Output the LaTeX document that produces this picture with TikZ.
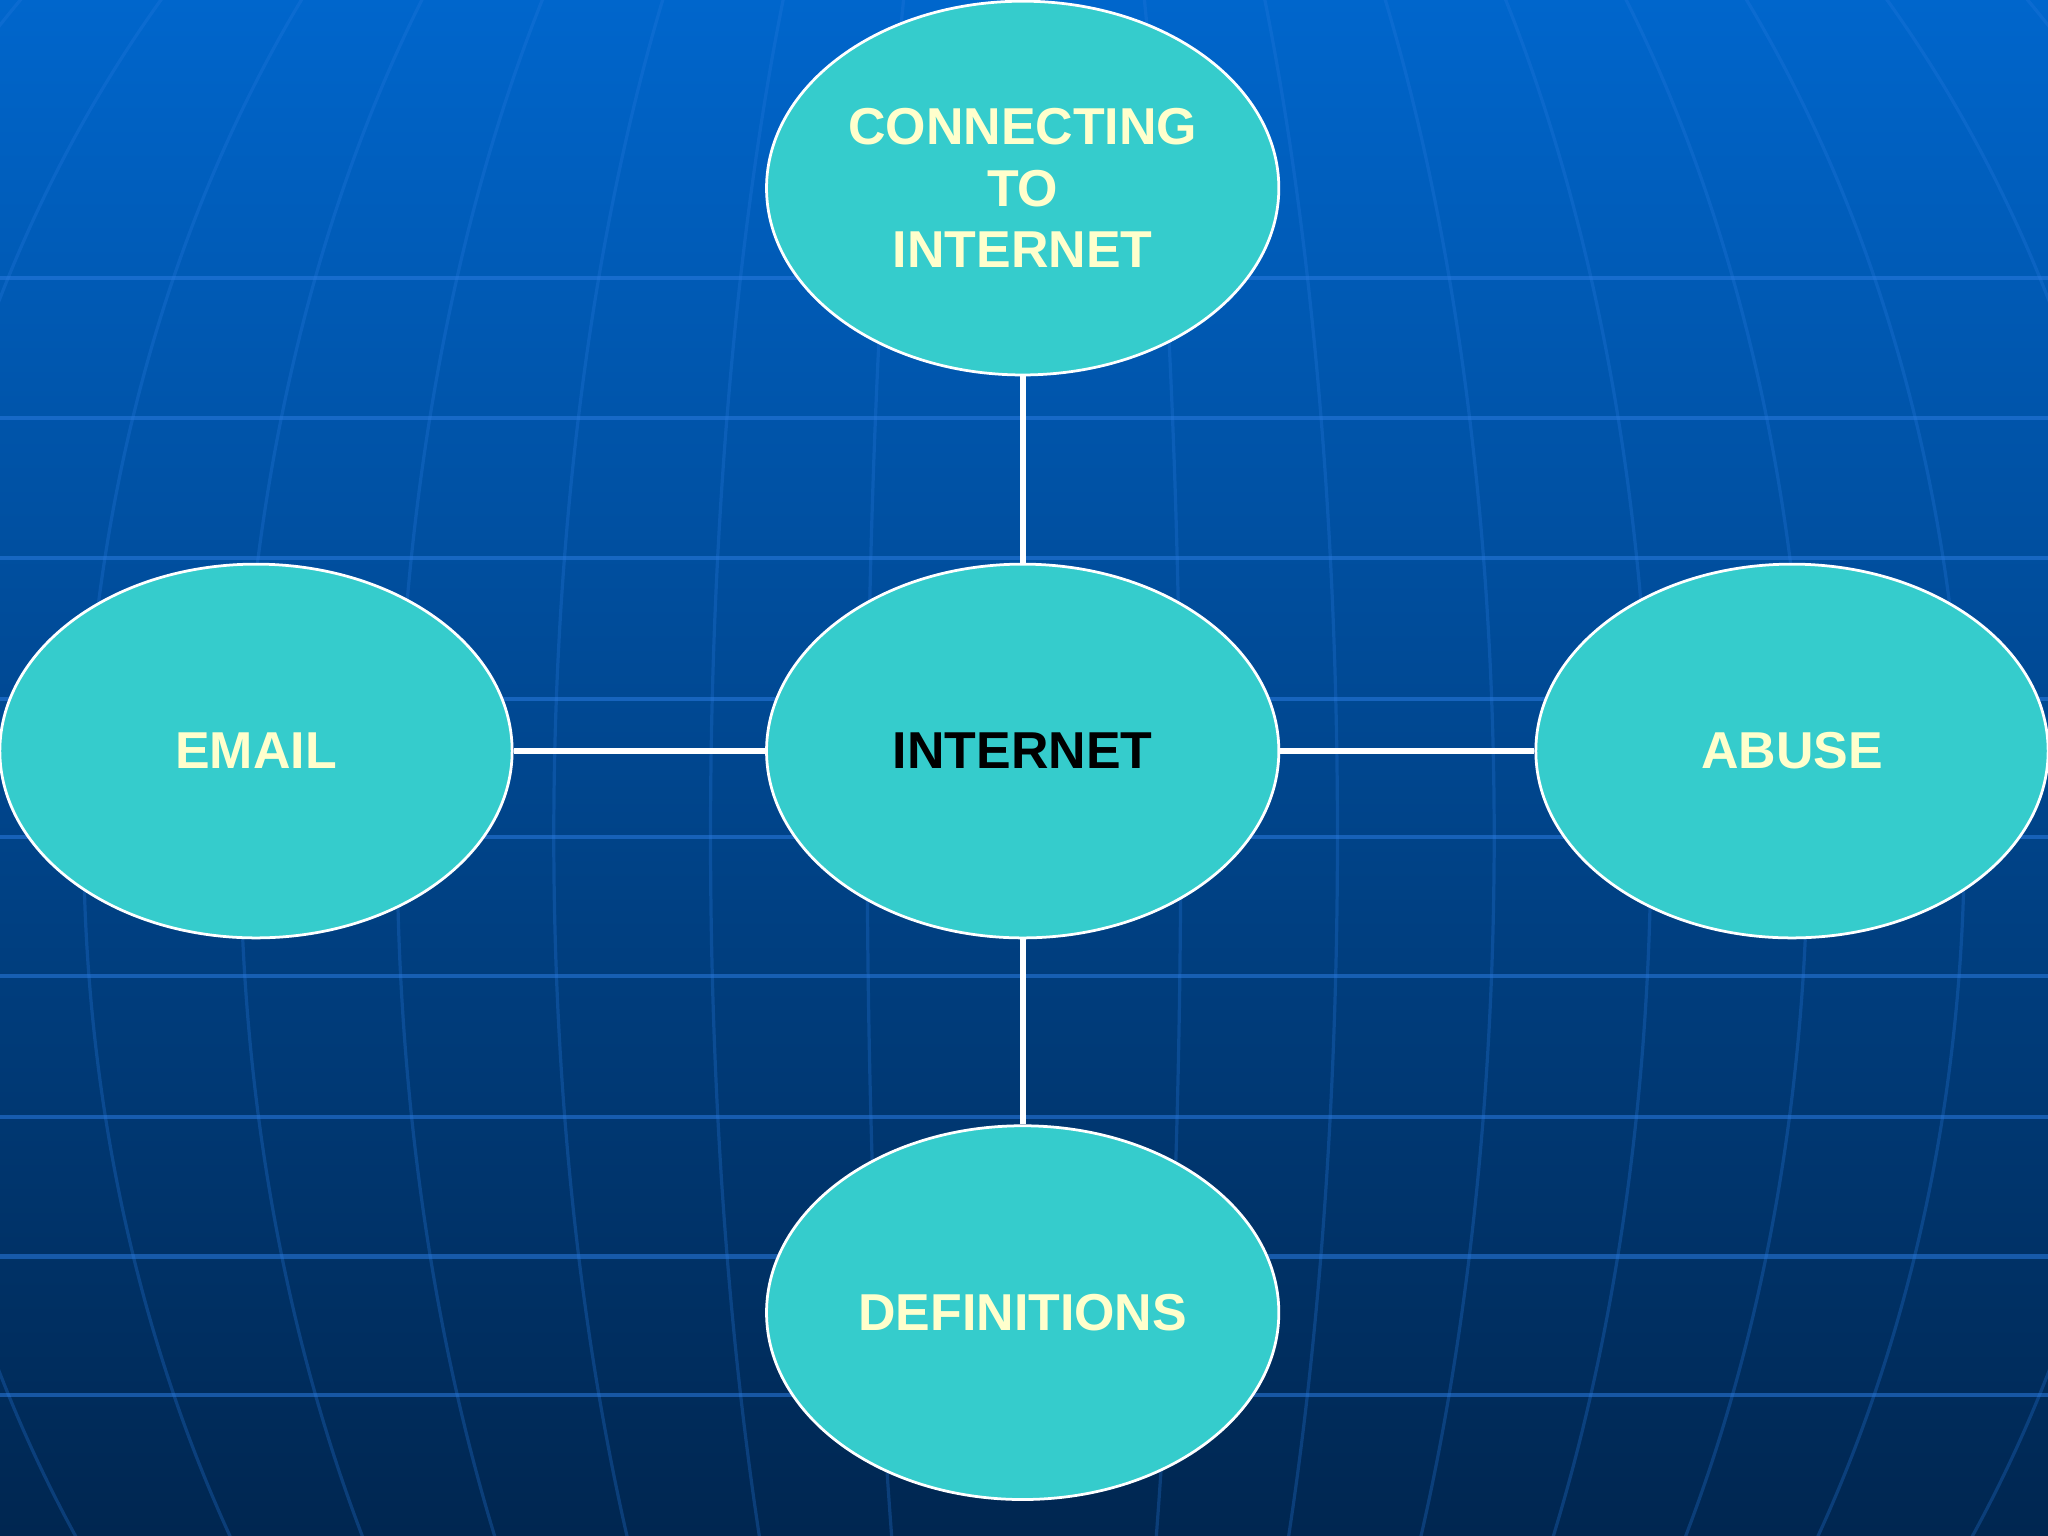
\documentclass[tikz,border=0pt]{standalone}
\usepackage{fontspec}
\setmainfont{Liberation Sans}
\definecolor{bgtop}{HTML}{0066CC}
\definecolor{bgbot}{HTML}{002650}
\definecolor{grid}{HTML}{2A7BE0}
\definecolor{bub}{HTML}{35CCCC}
\definecolor{txt}{HTML}{FFFFCC}
\tikzset{
  bubble/.style={ellipse, draw=white, line width=0.6pt, fill=bub, minimum width=3.92cm, minimum height=2.86cm, inner sep=0pt, align=center, font=\fontsize{11.3}{13.4}\selectfont\bfseries, text=txt},
  link/.style={draw=white, line width=1.3pt}
}
\usetikzlibrary{shapes.geometric}
\begin{document}
\begin{tikzpicture}[x=0.01cm,y=-0.01cm]
\useasboundingbox (0,0) rectangle (1568,1176);
\shade[top color=bgtop, bottom color=bgbot] (0,0) rectangle (1568,1176);
\begin{scope}
\clip (0,0) rectangle (1568,1176);
\foreach \yy in {213,320,427,535,641,747,855,962,1068}
  \draw[grid, opacity=0.55, line width=0.9pt] (0,\yy) -- (1568,\yy);
\foreach \rx in {120,240,360,480,600,720,860,1000}
  \draw[grid, opacity=0.28, line width=0.7pt] (784,640) ellipse [x radius=\rx, y radius=1000];
\end{scope}
\node[bubble] (top) at (783,144) {CONNECTING\\TO\\INTERNET};
\node[bubble, text=black] (mid) at (783,575) {INTERNET};
\node[bubble] (left) at (196,575) {EMAIL};
\node[bubble] (right) at (1372,575) {ABUSE};
\node[bubble] (bot) at (783,1005) {DEFINITIONS};
\draw[link] (top) -- (mid);
\draw[link] (mid) -- (bot);
\draw[link] (left) -- (mid);
\draw[link] (mid) -- (right);
\end{tikzpicture}
\end{document}
